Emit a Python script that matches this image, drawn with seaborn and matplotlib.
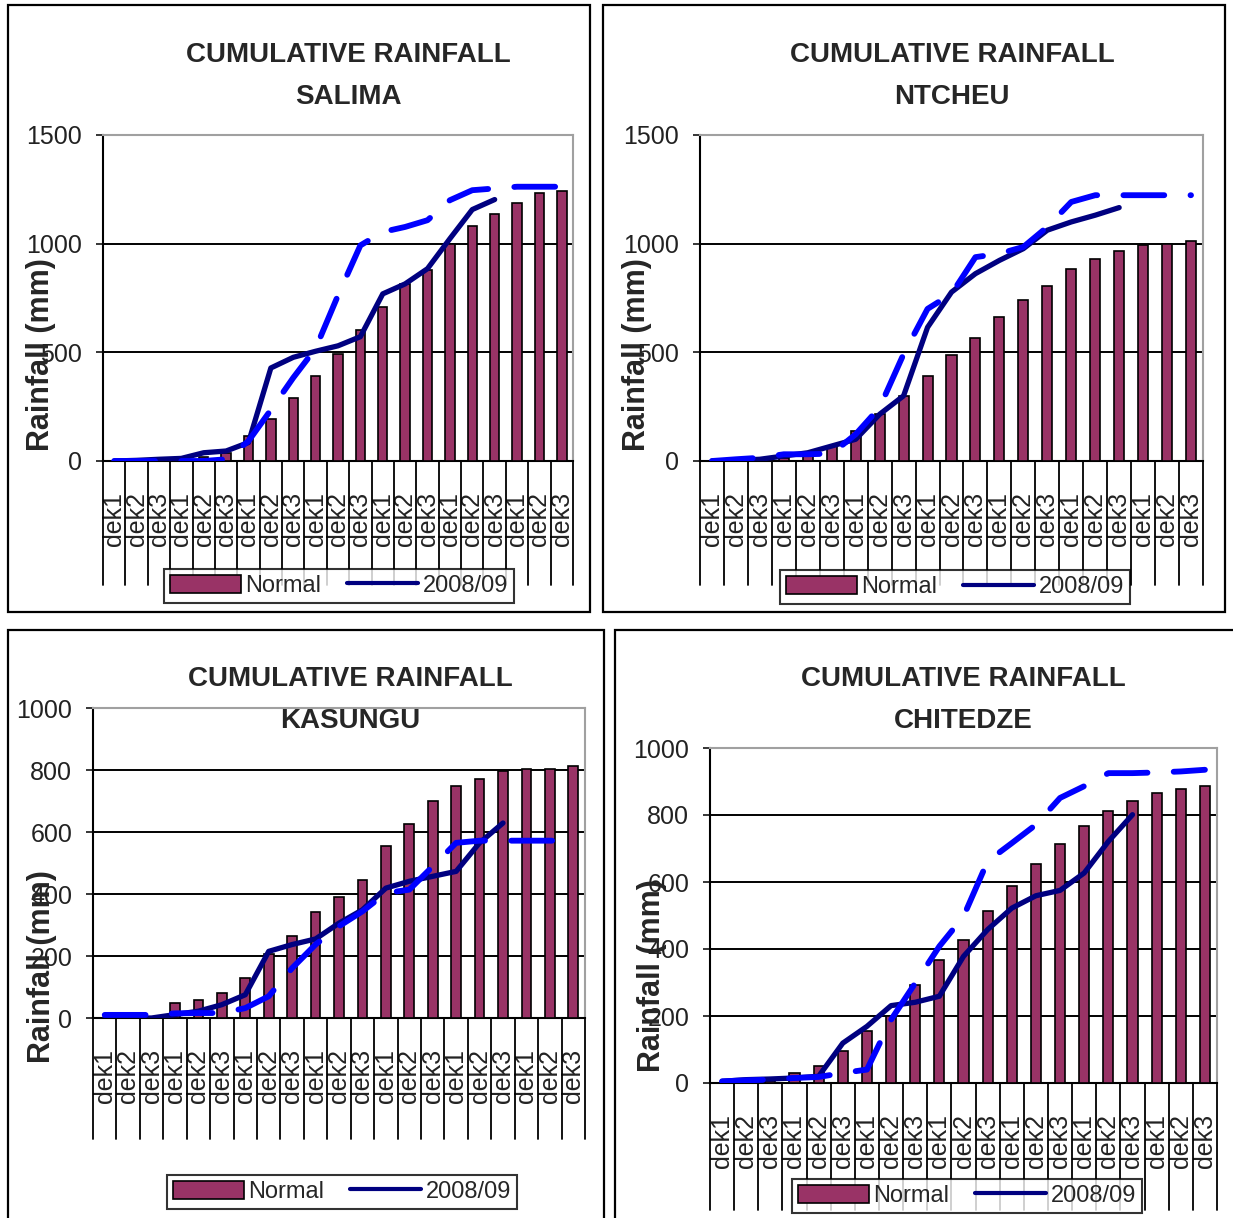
import numpy as np
import pandas as pd
import matplotlib
matplotlib.use("Agg")
import matplotlib.pyplot as plt
import matplotlib.transforms as mtransforms
from matplotlib.patches import Patch, Rectangle
from matplotlib.lines import Line2D
import seaborn as sns

# === data (cumulative rainfall, mm) ===
dekads = ["dek1", "dek2", "dek3"] * 7
stations = ["SALIMA", "NTCHEU", "KASUNGU", "CHITEDZE"]

salima_normal = [2, 3, 5, 10, 20, 35, 115, 195, 290, 392, 492, 603, 708, 815, 877, 1000, 1080, 1138, 1185, 1234, 1243]
salima_0809 = [0, 3, 8, 12, 38, 46, 85, 428, 477, 505, 530, 572, 769, 815, 885, 1023, 1157, 1203]
salima_dash = [0, 0, 0, 0, 0, 8, 92, 235, 383, 518, 762, 992, 1054, 1077, 1108, 1200, 1246, 1254, 1262, 1262, 1262]

ntcheu_normal = [2, 4, 8, 15, 30, 70, 138, 215, 300, 392, 488, 566, 662, 742, 803, 882, 931, 965, 992, 997, 1011]
ntcheu_0809 = [0, 3, 8, 23, 38, 69, 100, 215, 300, 615, 777, 862, 923, 977, 1062, 1100, 1131, 1166]
ntcheu_dash = [0, 8, 15, 31, 31, 34, 123, 246, 492, 700, 769, 938, 954, 985, 1077, 1192, 1223, 1223, 1223, 1223, 1223]

kasungu_normal = [0, 0, 0, 48, 57, 81, 129, 205, 266, 341, 390, 446, 554, 626, 699, 747, 772, 796, 804, 804, 812]
kasungu_0809 = [0, 0, 0, 11, 22, 43, 75, 215, 237, 255, 306, 349, 419, 441, 457, 473, 565, 629]
kasungu_dash = [10, 10, 10, 15, 16, 16, 32, 70, 161, 237, 296, 344, 403, 414, 489, 565, 572, 572, 572, 572, 572]

chitedze_normal = [0, 2, 5, 30, 52, 97, 154, 199, 294, 368, 428, 512, 587, 654, 713, 766, 813, 843, 866, 879, 888]
chitedze_0809 = [5, 10, 12, 15, 20, 119, 169, 231, 241, 259, 378, 458, 522, 559, 575, 627, 721, 801]
chitedze_dash = [5, 8, 10, 15, 18, 30, 40, 189, 298, 408, 497, 662, 716, 771, 851, 886, 925, 925, 927, 930, 935]

normals = [salima_normal, ntcheu_normal, kasungu_normal, chitedze_normal]
seasons = [salima_0809, ntcheu_0809, kasungu_0809, chitedze_0809]
dashed = [salima_dash, ntcheu_dash, kasungu_dash, chitedze_dash]
ymax = [1500, 1500, 1000, 1000]
ystep = [500, 500, 200, 200]

# === layout (pixels in a 1233x1218 picture) ===
W, H = 1233, 1218
axes_px = [(103, 135, 573, 461), (700, 135, 1203, 461), (93, 708, 585, 1018), (710, 748, 1217, 1083)]
title_px = [(348, 76), (952, 76), (350, 700), (963, 700)]
frames_px = [(8, 5, 590, 612), (603, 5, 1225, 612), (8, 630, 604, 1230), (615, 630, 1240, 1230)]
ylabel_xy = [(-0.10, 0.325), (-0.095, 0.325), (-0.073, 0.165), (-0.085, 0.32)]
legend_xy = [(0.502, -0.383), (0.507, -0.387), (0.506, -0.561), (0.507, -0.337)]
sep_len = [-0.38, -0.38, -0.39, -0.38]

bar_col = "#993366"
navy = "#000080"
blue = "#0000FF"

sns.set_style("white")
plt.rcParams["font.family"] = ["Liberation Sans", "DejaVu Sans"]

fig = plt.figure(figsize=(W / 100, H / 100), dpi=100)

for i in range(4):
    x0, y0, x1, y1 = axes_px[i]
    ax = fig.add_axes([x0 / W, 1 - y1 / H, (x1 - x0) / W, (y1 - y0) / H])

    df = pd.DataFrame({"pos": np.arange(len(normals[i])), "normal": normals[i]})
    sns.barplot(data=df, x="pos", y="normal", color=bar_col, edgecolor="black",
                linewidth=1.2, width=0.42, saturation=1, ax=ax, zorder=3)

    n = len(seasons[i])
    sns.lineplot(x=np.arange(n), y=seasons[i], color=navy, lw=3.8, ax=ax,
                 solid_capstyle="round", zorder=5)
    sns.lineplot(x=np.arange(len(dashed[i])), y=dashed[i], color=blue, lw=4.2, ax=ax,
                 linestyle=(0, (7, 4.5)), dash_capstyle="round", zorder=6)

    ax.set_xlim(-0.5, len(dekads) - 0.5)
    ax.set_ylim(0, ymax[i])
    ax.set_yticks(np.arange(0, ymax[i] + 1, ystep[i]))
    ax.yaxis.grid(True, color="black", lw=1.4)
    ax.set_axisbelow(True)
    ax.set_xticks(np.arange(len(dekads)))
    ax.set_xticklabels(dekads, rotation=90, fontsize=18, color="#222222")
    ax.tick_params(axis="x", length=0, pad=22)
    ax.tick_params(axis="y", length=5, width=1.3, direction="out", labelsize=18,
                   labelcolor="#222222", left=True, pad=10)
    ax.set_xlabel("")
    ax.set_ylabel("Rainfall (mm)", fontsize=22, fontweight="bold")
    ax.yaxis.set_label_coords(*ylabel_xy[i])

    for s in ["left", "bottom"]:
        ax.spines[s].set_color("black")
        ax.spines[s].set_linewidth(1.5)
    for s in ["top", "right"]:
        ax.spines[s].set_visible(True)
        ax.spines[s].set_color("#a0a0a0")
        ax.spines[s].set_linewidth(1.5)

    # category separators below the axis
    trans = mtransforms.blended_transform_factory(ax.transData, ax.transAxes)
    for b in np.arange(len(dekads) + 1) - 0.5:
        ax.plot([b, b], [0, sep_len[i]], color="black", lw=1.3,
                transform=trans, clip_on=False)

    handles = [Patch(facecolor=bar_col, edgecolor="black", lw=1.2),
               Line2D([], [], color=navy, lw=3)]
    leg = ax.legend(handles, ["Normal", "2008/09"], loc="center", ncol=2,
                    bbox_to_anchor=legend_xy[i], fontsize=17, frameon=True,
                    fancybox=False, edgecolor="black", handlelength=3.0,
                    handleheight=0.8, columnspacing=1.1, borderpad=0.25,
                    handletextpad=0.2)
    leg.get_frame().set_linewidth(1.5)
    leg.set_zorder(20)

    tx, ty = title_px[i]
    fig.text(tx / W, 1 - ty / H, "CUMULATIVE RAINFALL\n" + stations[i], ha="center",
             va="center", fontsize=20, fontweight="bold", linespacing=1.75)

for (x0, y0, x1, y1) in frames_px:
    fig.add_artist(Rectangle((x0 / W, 1 - y1 / H), (x1 - x0) / W, (y1 - y0) / H,
                             transform=fig.transFigure, fill=False,
                             edgecolor="black", lw=1.6))

fig.savefig("out.png", dpi=100, facecolor="white")
